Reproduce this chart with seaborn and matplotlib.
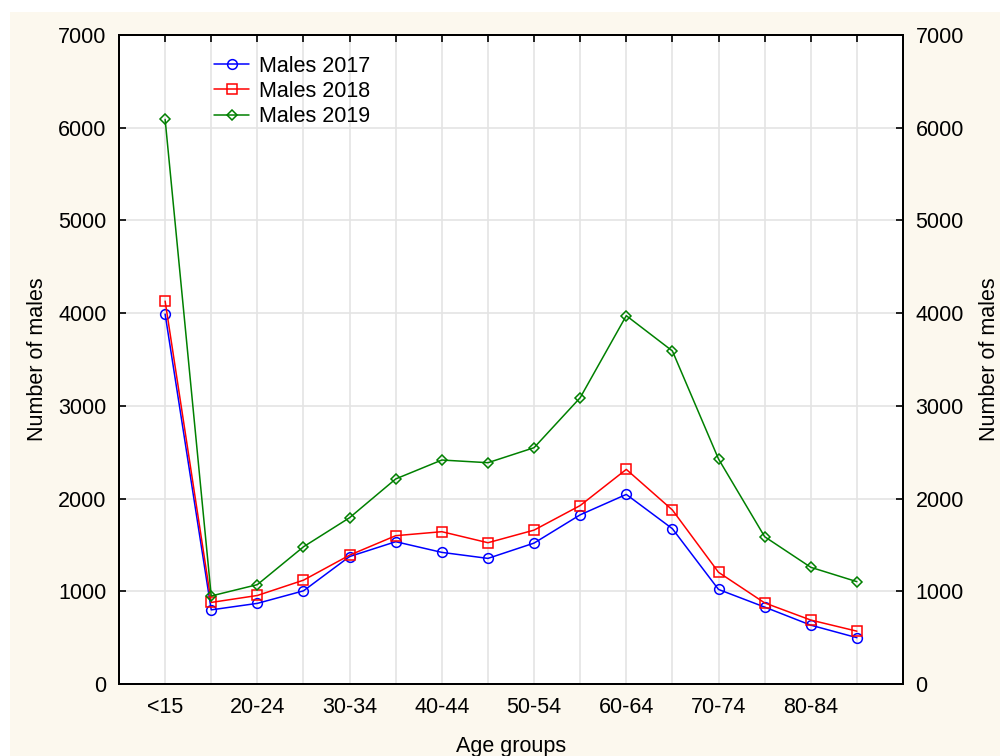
import numpy as np
import pandas as pd
import matplotlib
matplotlib.use("Agg")
import matplotlib.pyplot as plt
from matplotlib.patches import Rectangle
import seaborn as sns

# Data
age_groups = ["<15", "15-19", "20-24", "25-29", "30-34", "35-39", "40-44", "45-49",
              "50-54", "55-59", "60-64", "65-69", "70-74", "75-79", "80-84", "85+"]
males_2017 = [3990, 800, 870, 1005, 1375, 1535, 1420, 1355, 1520, 1825, 2045, 1675, 1020, 830, 635, 500]
males_2018 = [4130, 880, 955, 1120, 1390, 1600, 1643, 1524, 1660, 1925, 2315, 1877, 1205, 875, 690, 570]
males_2019 = [6090, 950, 1072, 1480, 1794, 2212, 2416, 2387, 2549, 3088, 3973, 3592, 2427, 1589, 1259, 1104]

sns.set_style("white")
plt.rcParams["font.family"] = ["Liberation Sans", "DejaVu Sans"]
plt.rcParams["font.size"] = 15.5
for key in ["text.color", "axes.labelcolor", "xtick.color", "ytick.color"]:
    plt.rcParams[key] = "black"

cream = "#fcf8ee"
fig = plt.figure(figsize=(10, 7.56), dpi=100, facecolor="white")
fig.patches.append(Rectangle((0.010, 0.0), 0.990, 1 - 12 / 756, transform=fig.transFigure,
                             facecolor=cream, edgecolor="none", zorder=-10))
ax = fig.add_axes([0.119, 0.0952, 0.784, 0.8585])
ax.set_facecolor("white")

series = [("Males 2017", males_2017, "#0000ff", "o", 7),
          ("Males 2018", males_2018, "#ff0000", "s", 7),
          ("Males 2019", males_2019, "#008000", "D", 5.5)]
for name, vals, col, mk, ms in series:
    sns.lineplot(x=age_groups, y=vals, ax=ax, sort=False, color=col, lw=1.1,
                 marker=mk, markersize=ms, markerfacecolor="none",
                 markeredgecolor=col, markeredgewidth=1.1, label=name)

ax.set_xlim(-1, 16)
ax.set_ylim(0, 7000)
ax.set_xticks(range(len(age_groups)))
ax.set_xticklabels([g if i % 2 == 0 else "" for i, g in enumerate(age_groups)])
ax.set_yticks(range(0, 7001, 1000))
ax.grid(True, color="#e4e4e4", lw=1.2)
ax.set_axisbelow(True)
for s in ax.spines.values():
    s.set_color("black")
    s.set_linewidth(1.4)
ax.tick_params(axis="both", direction="in", length=5, width=1.2, color="black",
               labelcolor="black", top=True, labelsize=15.5)
ax.tick_params(axis="x", pad=9)
ax.tick_params(axis="y", pad=9, right=False)

ax.set_xlabel("Age groups", labelpad=13, color="black")
ax.set_ylabel("Number of males", labelpad=7, color="black")

ax2 = ax.twinx()
ax2.set_ylim(0, 7000)
ax2.set_yticks(range(0, 7001, 1000))
ax2.tick_params(axis="y", direction="in", length=5, width=1.2, pad=9, labelsize=15.5,
                color="black", labelcolor="black")
ax2.set_ylabel("Number of males", labelpad=11, color="black")
for s in ax2.spines.values():
    s.set_color("black")
    s.set_linewidth(1.4)

leg = ax.legend(loc="upper left", bbox_to_anchor=(0.108, 0.985), frameon=False,
                handlelength=1.6, handletextpad=0.45, labelspacing=0.2, borderpad=0,
                fontsize=15.5)
for t in leg.get_texts():
    t.set_color("black")

fig.savefig("out.png", dpi=100, facecolor=fig.get_facecolor())
